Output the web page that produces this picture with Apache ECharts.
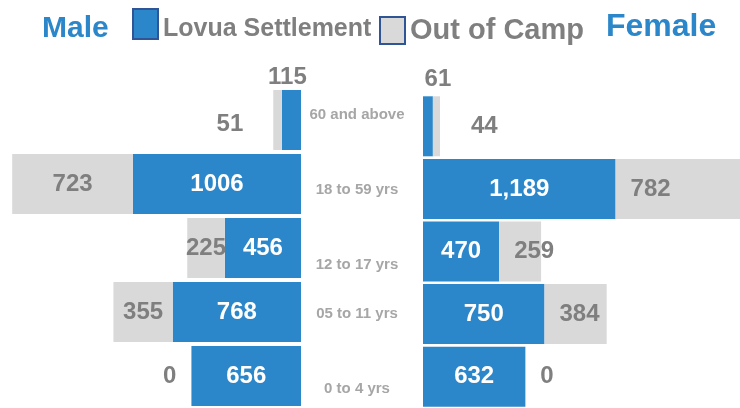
<!DOCTYPE html>
<html>
<head>
<meta charset="utf-8">
<script src="https://cdn.jsdelivr.net/npm/echarts@6/dist/echarts.min.js"></script>
<style>
  html, body { margin: 0; padding: 0; background: #fff; }
  #chart { width: 740px; height: 408px; }
</style>
</head>
<body>
<div id="chart"></div>
<script>
// age groups, top to bottom
const ageGroups = ['60 and above', '18 to 59 yrs', '12 to 17 yrs', '05 to 11 yrs', '0 to 4 yrs']
const maleLovua = [115, 1006, 456, 768, 656]
const maleOutOfCamp = [51, 723, 225, 355, 0]
const femaleLovua = [61, 1189, 470, 750, 632]
const femaleOutOfCamp = [44, 782, 259, 384, 0]

const BLUE = '#2b87c9'
const GRAY = '#d9d9d9'
const TXT_GRAY = '#7f7f7f'
const FONT = '"Liberation Sans", Arial, sans-serif'

// category labels in the middle sit a bit off their bars
const catShift = [-5, 6, 17, 2, 13]
const catRich = {}
catShift.forEach((d, i) => {
  catRich['c' + i] = { padding: d >= 0 ? [2 * d, 0, 0, 0] : [0, 0, -2 * d, 0] }
})

// attach per-bar label tweaks
function withLabels (values, tweaks) {
  return values.map((v, i) => tweaks[i] ? { value: v, label: tweaks[i] } : v)
}

const valueLabel = {
  show: true,
  fontFamily: FONT,
  fontSize: 24,
  fontWeight: 'bold'
}

const chart = echarts.init(document.getElementById('chart'))
const option = {
  animation: false,
  title: [
    {
      text: 'Male', left: 42, top: 14, padding: 0,
      textStyle: { color: BLUE, fontSize: 30, fontWeight: 'bold', fontFamily: FONT }
    },
    {
      text: 'Female', left: 606, top: 11, padding: 0,
      textStyle: { color: BLUE, fontSize: 32, fontWeight: 'bold', fontFamily: FONT }
    }
  ],
  legend: [
    {
      data: ['Lovua Settlement'],
      left: 132, top: 8, padding: 0,
      itemWidth: 25, itemHeight: 30, itemGap: 6,
      icon: 'rect',
      itemStyle: { borderColor: '#2f5597', borderWidth: 2 },
      formatter: '{t|{name}}',
      textStyle: {
        color: TXT_GRAY, fontSize: 25, fontWeight: 'bold', fontFamily: FONT,
        rich: { t: { padding: [10, 0, 0, 0] } }
      },
      selectedMode: false
    },
    {
      data: ['Out of Camp'],
      left: 379, top: 16, padding: 0,
      itemWidth: 25, itemHeight: 27,
      icon: 'rect',
      itemStyle: { borderColor: '#2f5597', borderWidth: 2 },
      textStyle: { color: TXT_GRAY, fontSize: 29, fontWeight: 'bold', fontFamily: FONT },
      selectedMode: false
    }
  ],
  grid: [
    { left: 0, top: 88, width: 301, height: 320 },
    { left: 423, top: 95, width: 317, height: 318 }
  ],
  xAxis: [
    {
      gridIndex: 0, type: 'value', inverse: true, min: 0, max: 1802,
      axisLine: { show: false }, axisTick: { show: false },
      axisLabel: { show: false }, splitLine: { show: false }
    },
    {
      gridIndex: 1, type: 'value', min: 0, max: 1957,
      axisLine: { show: false }, axisTick: { show: false },
      axisLabel: { show: false }, splitLine: { show: false }
    }
  ],
  yAxis: [
    {
      gridIndex: 0, type: 'category', data: ageGroups, inverse: true, position: 'right',
      axisLine: { show: false }, axisTick: { show: false },
      axisLabel: {
        align: 'center',
        margin: 56,
        color: '#a6a6a6',
        fontSize: 15,
        fontWeight: 'bold',
        fontFamily: FONT,
        formatter: (v, i) => `{c${i}|${v}}`,
        rich: catRich
      }
    },
    {
      gridIndex: 1, type: 'category', data: ageGroups, inverse: true,
      axisLine: { show: false }, axisTick: { show: false }, axisLabel: { show: false }
    }
  ],
  series: [
    {
      name: 'Lovua Settlement', type: 'bar', stack: 'male',
      xAxisIndex: 0, yAxisIndex: 0, barWidth: 60,
      itemStyle: { color: BLUE },
      label: { ...valueLabel, position: 'inside', color: '#fff' },
      data: withLabels(maleLovua, {
        0: { position: 'top', offset: [-4, 0], distance: 1, color: TXT_GRAY }
      })
    },
    {
      name: 'Out of Camp', type: 'bar', stack: 'male',
      xAxisIndex: 0, yAxisIndex: 0, barWidth: 60,
      itemStyle: { color: GRAY },
      label: { ...valueLabel, position: 'inside', color: TXT_GRAY },
      data: withLabels(maleOutOfCamp, {
        0: { position: 'left', distance: 30, offset: [0, 4] },
        4: { position: 'left', distance: 15 }
      })
    },
    {
      name: 'Lovua Settlement', type: 'bar', stack: 'female',
      xAxisIndex: 1, yAxisIndex: 1, barWidth: 60,
      itemStyle: { color: BLUE },
      label: {
        ...valueLabel, position: 'inside', color: '#fff',
        formatter: p => p.value.toLocaleString('en-US')
      },
      data: withLabels(femaleLovua, {
        0: { position: 'top', offset: [10, 0], color: TXT_GRAY }
      })
    },
    {
      name: 'Out of Camp', type: 'bar', stack: 'female',
      xAxisIndex: 1, yAxisIndex: 1, barWidth: 60,
      itemStyle: { color: GRAY },
      label: { ...valueLabel, position: 'insideLeft', distance: 15, color: TXT_GRAY },
      data: withLabels(femaleOutOfCamp, {
        0: { position: 'insideLeft', distance: 38 }
      })
    }
  ]
}
chart.setOption(option)
</script>
</body>
</html>
